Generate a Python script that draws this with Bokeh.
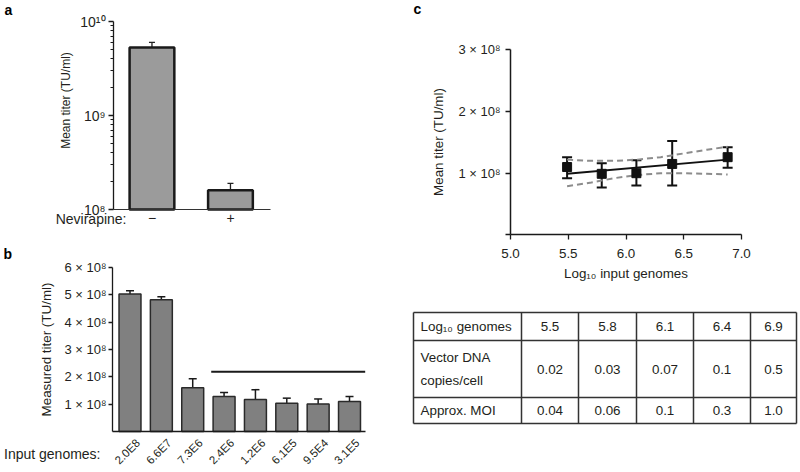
import math
from bokeh.plotting import figure
from bokeh.layouts import row, column
from bokeh.models import Range1d, FixedTicker, Label, Whisker, TeeHead, ColumnDataSource
from bokeh.embed import file_html
from bokeh.resources import INLINE
from bokeh.core.properties import value

FONT = "Liberation Sans"
TXT = "#231f20"

# ---------------- data ----------------
# Panel a
nevirapine = ["\u2212", "+"]
a_titer = [5.3e9, 1.6e8]
a_upper = [6.0e9, 1.9e8]
a_lower = [4.45e9, 1.34e8]
a_yticks = [1e8, 1e9, 1e10]
a_ytick_labels = ["10\u2078", "10\u2079", "10\u00b9\u2070"]

# Panel b
b_genomes = ["2.0E8", "6.6E7", "7.3E6", "2.4E6", "1.2E6", "6.1E5", "9.5E4", "3.1E5"]
b_titer = [5.03e8, 4.82e8, 1.60e8, 1.28e8, 1.17e8, 1.03e8, 1.01e8, 1.10e8]
b_upper = [5.15e8, 4.93e8, 1.93e8, 1.43e8, 1.53e8, 1.22e8, 1.19e8, 1.28e8]
b_lower = [4.90e8, 4.70e8, 1.25e8, 1.07e8, 0.80e8, 0.85e8, 0.83e8, 0.94e8]
b_yticks = [1e8, 2e8, 3e8, 4e8, 5e8, 6e8]
b_ytick_labels = ["1 \u00d7 10\u2078", "2 \u00d7 10\u2078", "3 \u00d7 10\u2078",
                  "4 \u00d7 10\u2078", "5 \u00d7 10\u2078", "6 \u00d7 10\u2078"]
b_bracket_x = [3.59, 8.5]
b_bracket_y = [2.19e8, 2.19e8]

# Panel c
c_log_genomes = [5.49, 5.79, 6.09, 6.40, 6.88]
c_titer = [1.10e8, 0.99e8, 1.00e8, 1.15e8, 1.26e8]
c_upper = [1.26e8, 1.16e8, 1.21e8, 1.52e8, 1.42e8]
c_lower = [0.92e8, 0.77e8, 0.80e8, 0.80e8, 1.09e8]
c_fit_x = [5.49, 6.88]
c_fit_y = [0.99e8, 1.22e8]
c_band_x = [5.49, 5.7, 5.9, 6.1, 6.3, 6.5, 6.7, 6.88]
c_band_upper = [1.22e8, 1.20e8, 1.20e8, 1.22e8, 1.26e8, 1.32e8, 1.38e8, 1.43e8]
c_band_lower = [0.79e8, 0.85e8, 0.92e8, 0.97e8, 1.00e8, 1.00e8, 0.99e8, 0.98e8]
c_xticks = [5.0, 5.5, 6.0, 6.5, 7.0]
c_yticks = [0, 1e8, 2e8, 3e8]
c_ytick_labels = ["", "1 \u00d7 10\u2078", "2 \u00d7 10\u2078", "3 \u00d7 10\u2078"]

# Table
table_row_labels = ["Log\u2081\u2080 genomes", "Vector DNA\ncopies/cell", "Approx. MOI"]
table_log_genomes = ["5.5", "5.8", "6.1", "6.4", "6.9"]
table_copies = ["0.02", "0.03", "0.07", "0.1", "0.5"]
table_moi = ["0.04", "0.06", "0.1", "0.3", "1.0"]
table_col_widths = [108, 57, 58, 57, 57, 46]
table_row_heights = [28, 57, 26]


# ---------------- helpers ----------------
def mapper(p0, d0, p1, d1):
    return lambda p: d0 + (p - p0) * (d1 - d0) / (p1 - p0)


def base_fig(w, h, xr, yr, **kw):
    p = figure(output_backend="svg", toolbar_location=None, width=w, height=h,
               x_range=xr, y_range=yr, min_border_left=0, min_border_right=0,
               min_border_top=0, min_border_bottom=0, **kw)
    p.outline_line_color = None
    p.grid.visible = False
    p.background_fill_color = "white"
    p.border_fill_color = "white"
    return p


def style_axis(ax, label_size, tick_size):
    ax.axis_line_color = "#1a1a1a"
    ax.axis_line_width = 1.3
    ax.major_tick_line_color = "#1a1a1a"
    ax.major_tick_line_width = 1.3
    ax.minor_tick_line_color = "#1a1a1a"
    ax.major_label_text_font = FONT
    ax.major_label_text_color = TXT
    ax.major_label_text_font_size = tick_size
    ax.axis_label_text_font = FONT
    ax.axis_label_text_font_style = "normal"
    ax.axis_label_text_color = TXT
    ax.axis_label_text_font_size = label_size
    ax.major_tick_in = 0


def add_text(p, x, y, text, size, align="left", baseline="middle", bold=False, color=TXT,
             angle=0.0):
    p.add_layout(Label(x=x, y=y, text=text, text_font=FONT, text_font_size=size,
                       text_font_style="bold" if bold else "normal", text_color=color,
                       text_align=align, text_baseline=baseline, angle=angle))


# ---------------- panel a (page 0..400 x 0..240) ----------------
A_X0, A_X1 = 0.51, 2.51
ax_a = mapper(113, A_X0, 270, A_X1)
ay_a = mapper(209, 8.0, 21, 10.0)   # log10 units
fa = base_fig(400, 240, Range1d(ax_a(0), ax_a(400)),
              Range1d(10 ** ay_a(240), 10 ** ay_a(0)), y_axis_type="log")
a_x = list(range(1, len(nevirapine) + 1))
fa.vbar(x=a_x, top=a_titer, bottom=a_yticks[0], width=0.57, fill_color="#9b9b9b",
        line_color="#1a1a1a", line_width=2.5)
src_a = ColumnDataSource(dict(x=a_x, up=a_upper, lo=a_lower))
fa.add_layout(Whisker(base="x", upper="up", lower="lo", source=src_a, line_color="#222222",
                      line_width=1.3,
                      upper_head=TeeHead(size=6, line_width=1.3, line_color="#222222"),
                      lower_head=TeeHead(size=6, line_width=1.3, line_color="#222222")))
ya = fa.yaxis[0]
style_axis(ya, "11.5px", "14px")
ya.fixed_location = A_X0
ya.bounds = (a_yticks[0], a_yticks[-1])
ya.ticker = FixedTicker(ticks=a_yticks,
                        minor_ticks=[k * 10 ** e for e in (8, 9) for k in range(2, 10)])
ya.major_label_overrides = dict(zip(a_yticks, a_ytick_labels))
ya.major_tick_out = 5
ya.minor_tick_out = 3
ya.minor_tick_in = 0
ya.major_label_standoff = 3
xa = fa.xaxis[0]
style_axis(xa, "13px", "14px")
xa.fixed_location = a_yticks[0]
xa.bounds = (A_X0, A_X1)
xa.ticker = FixedTicker(ticks=a_x)
xa.major_label_overrides = dict(zip(a_x, nevirapine))
xa.major_tick_out = 0
xa.major_label_standoff = 3
xa.axis_line_color = "#333333"
xa.axis_line_width = 1.0
add_text(fa, ax_a(65), 10 ** ay_a(100), "Mean titer (TU/ml)", "12px", align="center",
         angle=math.pi / 2)
add_text(fa, ax_a(4), 10 ** ay_a(9.5), "a", "14px", bold=True, color="black")
add_text(fa, ax_a(126), 10 ** ay_a(218), "Nevirapine:", "14px", align="right")

# ---------------- panel b (page 0..400 x 240..472) ----------------
B_X0, B_X1 = 0.442, 8.51
ax_b = mapper(112, B_X0, 365, B_X1)
ay_b = mapper(431, 0.0, 267, 6e8)
fb = base_fig(400, 232, Range1d(ax_b(0), ax_b(400)), Range1d(ay_b(472), ay_b(240)))
b_x = list(range(1, len(b_genomes) + 1))
fb.vbar(x=b_x, top=b_titer, bottom=0, width=0.70, fill_color="#808080",
        line_color="#2a2a2a", line_width=1.5)
src_b = ColumnDataSource(dict(x=b_x, up=b_upper, lo=b_lower))
fb.add_layout(Whisker(base="x", upper="up", lower="lo", source=src_b, line_color="#1a1a1a",
                      line_width=1.5,
                      upper_head=TeeHead(size=8, line_width=1.5, line_color="#1a1a1a"),
                      lower_head=TeeHead(size=8, line_width=1.5, line_color="#1a1a1a")))
fb.line(x=b_bracket_x, y=b_bracket_y, line_color="#1a1a1a", line_width=2)
yb = fb.yaxis[0]
style_axis(yb, "13.4px", "13px")
yb.fixed_location = B_X0
yb.bounds = (0, b_yticks[-1])
yb.axis_label = "Measured titer (TU/ml)"
yb.ticker = FixedTicker(ticks=b_yticks)
yb.major_label_overrides = dict(zip(b_yticks, b_ytick_labels))
yb.major_tick_out = 4
yb.major_label_standoff = 2
yb.axis_label_standoff = 8
xb = fb.xaxis[0]
style_axis(xb, "13px", "12px")
xb.fixed_location = 0
xb.bounds = (B_X0, B_X1)
xb.ticker = FixedTicker(ticks=b_x)
xb.major_label_overrides = {i: "" for i in b_x}
xb.major_tick_out = 0
# rotated category labels, anchored at their end just below each bar
fb.text(x=b_x, y=[0] * len(b_x), text=b_genomes, angle=math.pi / 4, x_offset=8, y_offset=9.5,
        text_font=value(FONT), text_font_size="11.5px", text_color=TXT,
        text_align="right", text_baseline="middle")
add_text(fb, ax_b(3), ay_b(253.5), "b", "14px", bold=True, color="black")
add_text(fb, ax_b(100), ay_b(453), "Input genomes:", "14px", align="right")

# ---------------- panel c (page 400..800 x 0..290) ----------------
ax_c = mapper(510, 5.0, 741, 7.0)
ay_c = mapper(234.4, 0.0, 49.3, 3e8)
fc = base_fig(400, 290, Range1d(ax_c(400), ax_c(800)), Range1d(ay_c(290), ay_c(0)))
fc.line(x=c_band_x, y=c_band_upper, line_color="#8c8c8c", line_width=2, line_dash="6 4")
fc.line(x=c_band_x, y=c_band_lower, line_color="#8c8c8c", line_width=2, line_dash="6 4")
fc.line(x=c_fit_x, y=c_fit_y, line_color="#111111", line_width=2)
src_c = ColumnDataSource(dict(x=c_log_genomes, up=c_upper, lo=c_lower))
fc.add_layout(Whisker(base="x", upper="up", lower="lo", source=src_c, line_color="#111111",
                      line_width=2,
                      upper_head=TeeHead(size=10, line_width=2, line_color="#111111"),
                      lower_head=TeeHead(size=10, line_width=2, line_color="#111111")))
fc.scatter(x=c_log_genomes, y=c_titer, marker="square", size=9, fill_color="#111111",
           line_color="#111111")
yc = fc.yaxis[0]
style_axis(yc, "13.4px", "13px")
yc.fixed_location = c_xticks[0]
yc.bounds = (c_yticks[0], c_yticks[-1])
yc.axis_label = "Mean titer (TU/ml)"
yc.ticker = FixedTicker(ticks=c_yticks)
yc.major_label_overrides = dict(zip(c_yticks, c_ytick_labels))
yc.major_tick_out = 5
yc.major_label_standoff = 5
yc.axis_label_standoff = 10
yc.axis_line_width = 1.5
xc = fc.xaxis[0]
style_axis(xc, "13.4px", "13.4px")
xc.fixed_location = c_yticks[0]
xc.bounds = (c_xticks[0], c_xticks[-1])
xc.axis_label = "Log\u2081\u2080 input genomes"
xc.ticker = FixedTicker(ticks=c_xticks)
xc.major_label_overrides = {t: f"{t:.1f}" for t in c_xticks}
xc.major_tick_out = 5
xc.major_label_standoff = 9
xc.axis_label_standoff = 5
xc.axis_line_width = 1.5
add_text(fc, ax_c(413), ay_c(8.5), "c", "14px", bold=True, color="black")

# ---------------- table (page 400..800 x 290..472) ----------------
tx = mapper(413, 0, 414, 1)     # table units = pixels from the table's left edge
ty = mapper(312, 0, 313, 1)     # from the table's top edge, downward
ft = figure(output_backend="svg", toolbar_location=None, width=400, height=182,
            x_range=Range1d(tx(400), tx(800)), y_range=Range1d(ty(472), ty(290)),
            x_axis_location=None, y_axis_location=None,
            min_border_left=0, min_border_right=0, min_border_top=0, min_border_bottom=0)
ft.outline_line_color = None
ft.grid.visible = False
tw = sum(table_col_widths)
th = sum(table_row_heights)
col_edges = [sum(table_col_widths[:i]) for i in range(len(table_col_widths) + 1)]
row_edges = [sum(table_row_heights[:i]) for i in range(len(table_row_heights) + 1)]
ft.segment(x0=[0] * len(row_edges), x1=[tw] * len(row_edges), y0=row_edges, y1=row_edges,
           line_color="#333333", line_width=1.5)
ft.segment(x0=col_edges, x1=col_edges, y0=[0] * len(col_edges), y1=[th] * len(col_edges),
           line_color="#333333", line_width=1.5)
row_centers = [(row_edges[i] + row_edges[i + 1]) / 2 for i in range(len(table_row_heights))]
col_centers = [(col_edges[i] + col_edges[i + 1]) / 2 for i in range(len(table_col_widths))]
ft.text(x=[7] * 3, y=row_centers, text=table_row_labels, text_font=value(FONT),
        text_font_size="13.4px", text_color=TXT, text_align="left", text_baseline="middle",
        text_line_height=1.55)
vals = [table_log_genomes, table_copies, table_moi]
xs, ys, ts = [], [], []
for r, rowvals in enumerate(vals):
    for c, v in enumerate(rowvals):
        xs.append(col_centers[c + 1])
        ys.append(row_centers[r])
        ts.append(v)
ft.text(x=xs, y=ys, text=ts, text_font=value(FONT), text_font_size="13.4px", text_color=TXT,
        text_align="center", text_baseline="middle")

layout = row(column(fa, fb), column(fc, ft))
open("out.html", "w").write(file_html(layout, INLINE))
